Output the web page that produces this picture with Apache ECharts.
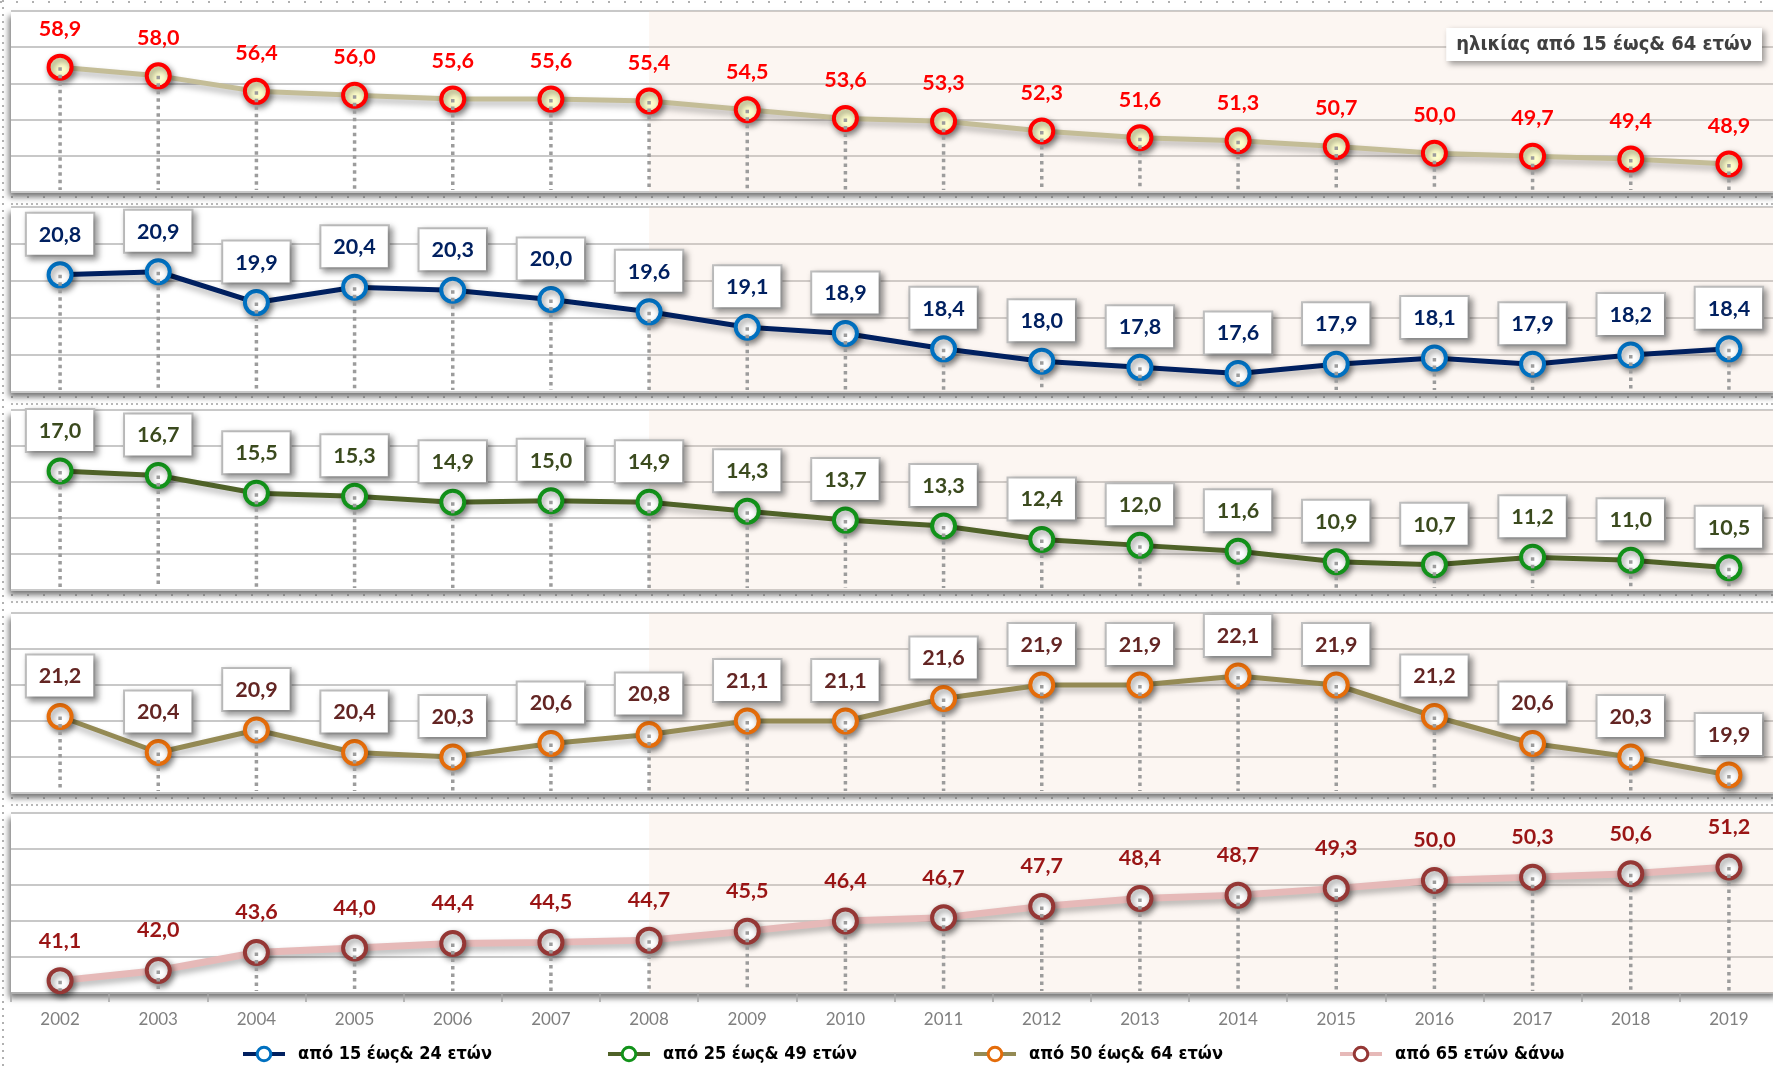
<!DOCTYPE html>
<html>
<head>
<meta charset="utf-8">
<script src="https://cdn.jsdelivr.net/npm/echarts@6/dist/echarts.min.js"></script>
<style>
html,body{margin:0;padding:0;background:#fff;}
#chart{width:1773px;height:1066px;}
</style>
</head>
<body>
<div id="chart"></div>
<script>
// ---- data ----
const years = ['2002','2003','2004','2005','2006','2007','2008','2009','2010','2011','2012','2013','2014','2015','2016','2017','2018','2019'];
const age15to64 = [58.9,58.0,56.4,56.0,55.6,55.6,55.4,54.5,53.6,53.3,52.3,51.6,51.3,50.7,50.0,49.7,49.4,48.9];
const age15to24 = [20.8,20.9,19.9,20.4,20.3,20.0,19.6,19.1,18.9,18.4,18.0,17.8,17.6,17.9,18.1,17.9,18.2,18.4];
const age25to49 = [17.0,16.7,15.5,15.3,14.9,15.0,14.9,14.3,13.7,13.3,12.4,12.0,11.6,10.9,10.7,11.2,11.0,10.5];
const age50to64 = [21.2,20.4,20.9,20.4,20.3,20.6,20.8,21.1,21.1,21.6,21.9,21.9,22.1,21.9,21.2,20.6,20.3,19.9];
const age65plus = [41.1,42.0,43.6,44.0,44.4,44.5,44.7,45.5,46.4,46.7,47.7,48.4,48.7,49.3,50.0,50.3,50.6,51.2];
const seriesNames = ['ηλικίας από 15 έως& 64 ετών','από 15 έως& 24 ετών','από 25 έως& 49 ετών','από 50 έως& 64 ετών','από 65 ετών &άνω'];
const shadeFromYear = '2008';

// ---- layout / style ----
const panelTops = [11, 207, 410, 613, 813];
const panelHeights = [181, 185, 180, 180, 180];
const yRanges = [[46, 64.7], [17, 23], [9, 21.1], [19.5, 23.5], [40, 56]];
const gridLeft = 11, gridWidth = 1767;
const numFont = 'Lato, "Noto Sans", sans-serif';
const grFont = '"DejaVu Sans Condensed", "DejaVu Sans", sans-serif';

const styles = [
  {line:'#c4bd97', lw:5, border:'#ff0000', fill:'#ffffcc', text:'#ff0000', box:false, dist:12.5},
  {line:'#002060', lw:5, border:'#0070c0', fill:'#ffffff', text:'#002060', box:true, dist:6.5},
  {line:'#4f6228', lw:5, border:'#12921a', fill:'#ffffff', text:'#3b4a1e', box:true, dist:6.5},
  {line:'#948a54', lw:5, border:'#e46c0a', fill:'#ffffff', text:'#632523', box:true, dist:6.5},
  {line:'#e6b9b8', lw:7, border:'#953735', fill:'#ffffff', text:'#9a1515', box:false, dist:14.5}
];
const allData = [age15to64, age15to24, age25to49, age50to64, age65plus];

const fmt = p => Number(p.value).toFixed(1).replace('.', ',');

const grids = [], xAxes = [], yAxes = [], series = [];
for (let k = 0; k < 5; k++) {
  grids.push({
    left: gridLeft, width: gridWidth, top: panelTops[k], height: panelHeights[k],
    outerBoundsMode: 'none', containLabel: false,
    show: true, backgroundColor: '#ffffff', borderWidth: 0,
    shadowBlur: 6, shadowColor: 'rgba(0,0,0,0.55)', shadowOffsetX: -2, shadowOffsetY: 5
  });
  const last = k === 4;
  xAxes.push({
    type: 'category', gridIndex: k, data: years, boundaryGap: true,
    axisLine: {show: last, lineStyle: {color: '#a6a6a6', width: 1.5}},
    axisTick: {show: last, length: 9, lineStyle: {color: '#a6a6a6', width: 1.5}},
    axisLabel: {show: last, color: '#7f7f7f', fontSize: 17, fontFamily: numFont, margin: 18},
    splitLine: {show: false}
  });
  // grid-line axis
  yAxes.push({
    type: 'value', gridIndex: k, min: 0, max: 5, interval: 1,
    axisLine: {show: false}, axisTick: {show: false}, axisLabel: {show: false},
    splitLine: {show: true, lineStyle: {color: '#c8c8c8', width: 2}}
  });
  // data axis
  yAxes.push({
    type: 'value', gridIndex: k, min: yRanges[k][0], max: yRanges[k][1], show: false,
    splitLine: {show: false}
  });
  const s = styles[k];
  const label = {
    show: true, position: 'top', distance: s.dist, formatter: fmt,
    color: s.text, fontSize: 21.5, fontWeight: 'bold', fontFamily: numFont, lineHeight: 24
  };
  if (s.box) {
    Object.assign(label, {
      backgroundColor: '#ffffff', borderColor: '#c0c0c0', borderWidth: 2,
      padding: [9, 12, 8, 12],
      shadowBlur: 6, shadowColor: 'rgba(0,0,0,0.35)', shadowOffsetX: 3, shadowOffsetY: 3
    });
  }
  series.push({
    name: seriesNames[k], type: 'line', xAxisIndex: k, yAxisIndex: 2 * k + 1,
    data: allData[k], z: 2,
    symbol: 'circle', symbolSize: 23,
    lineStyle: {color: s.line, width: s.lw, shadowBlur: 6, shadowColor: 'rgba(0,0,0,0.3)', shadowOffsetY: 4},
    itemStyle: {color: s.fill, borderColor: s.border, borderWidth: 4,
      shadowBlur: 6, shadowColor: 'rgba(0,0,0,0.45)', shadowOffsetX: 2, shadowOffsetY: 3},
    label: label,
    emphasis: {disabled: true},
    markArea: {
      silent: true,
      itemStyle: {color: 'rgba(240,210,190,0.2)'},
      data: [[{xAxis: shadeFromYear}, {}]]
    }
  });
  // drop lines
  series.push({
    type: 'custom', xAxisIndex: k, yAxisIndex: 2 * k + 1, z: 4, silent: true,
    data: allData[k].map((v, i) => [i, v]),
    encode: {x: 0, y: 1},
    renderItem: (params, api) => {
      const p = api.coord([api.value(0), api.value(1)]);
      const cs = params.coordSys;
      return {type: 'line', shape: {x1: p[0], y1: p[1], x2: p[0], y2: cs.y + cs.height - 2},
        style: {stroke: '#9c9c9c', lineWidth: 3.5, lineDash: [3.5, 4]}};
    }
  });
}

const legendLefts = [241, 606, 972, 1338];
const legends = [1, 2, 3, 4].map((k, i) => ({
  data: [seriesNames[k]], left: legendLefts[i], top: 1045, padding: 0,
  itemWidth: 42, itemHeight: 17, itemGap: 5,
  lineStyle: {width: 4},
  itemStyle: {borderWidth: 3},
  textStyle: {color: '#000', fontSize: 18, fontWeight: 'bold', fontFamily: grFont, padding: [0, 0, 0, 8]},
  selectedMode: false
}));

// decorative dotted frame lines
const graphics = [];
graphics.push({type: 'line', shape: {x1: 0, y1: 2, x2: 1773, y2: 2},
  style: {stroke: '#b0b0b0', lineWidth: 2, lineDash: [2, 14]}, silent: true});
graphics.push({type: 'line', shape: {x1: 3, y1: 0, x2: 3, y2: 1066},
  style: {stroke: '#b0b0b0', lineWidth: 2, lineDash: [2, 5]}, silent: true});
for (let k = 0; k < 4; k++) {
  const yb = panelTops[k] + panelHeights[k];
  graphics.push({type: 'line', shape: {x1: gridLeft, y1: yb + 5, x2: 1773, y2: yb + 5},
    style: {stroke: '#8c8c8c', lineWidth: 2, lineDash: [2, 14]}, silent: true, z: 10});
  graphics.push({type: 'line', shape: {x1: gridLeft, y1: yb + 12, x2: 1773, y2: yb + 12},
    style: {stroke: '#a0a0a0', lineWidth: 1.5, lineDash: [2, 3]}, silent: true, z: 10});
}

const chart = echarts.init(document.getElementById('chart'), null, {renderer: 'canvas'});
chart.setOption({
  animation: false,
  backgroundColor: '#ffffff',
  title: {
    text: seriesNames[0], right: 11, top: 28,
    backgroundColor: '#ffffff', padding: [7, 10, 6, 10],
    shadowBlur: 6, shadowColor: 'rgba(0,0,0,0.4)', shadowOffsetX: 3, shadowOffsetY: 3,
    textStyle: {color: '#404040', fontSize: 20, fontWeight: 'bold', fontFamily: grFont}
  },
  legend: legends,
  grid: grids,
  xAxis: xAxes,
  yAxis: yAxes,
  series: series,
  graphic: graphics
});
</script>
</body>
</html>
